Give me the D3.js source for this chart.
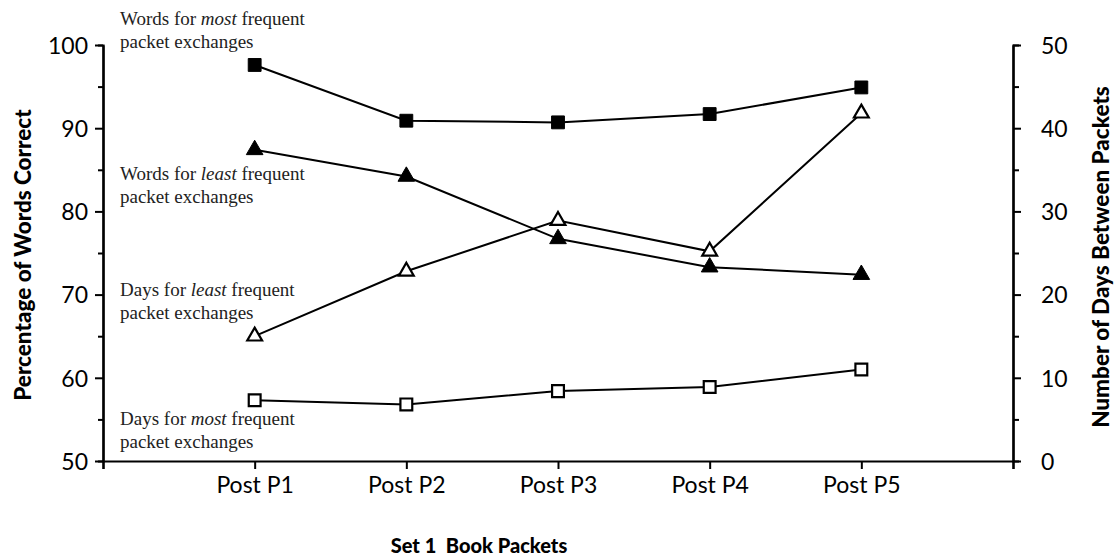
<!DOCTYPE html>
<html>
  <head>
    <title>Set 1 Book Packets</title>
    <script src="https://d3js.org/d3.v7.min.js"></script>
    <style>
      body { margin: 0; background: #fff; }
      .tick text { font-family: Lato, 'Open Sans', sans-serif; font-size: 23px; fill: #000; }
      .axis-title { font-family: Lato, sans-serif; font-weight: 900; font-size: 20px; }
      .axis-title.vert { font-size: 22.5px; }
      .note { font-family: 'Liberation Serif', 'DejaVu Serif', serif; font-size: 19px; fill: #222; }
    </style>
  </head>
  <body>
    <svg width="1118" height="557"></svg>
    <script>
      (function (d3) {
        'use strict';

        const packets = ['Post P1', 'Post P2', 'Post P3', 'Post P4', 'Post P5'];
        // left axis: percentage of words correct
        const wordsMost = [97.6, 90.9, 90.7, 91.7, 94.9];
        const wordsLeast = [87.4, 84.2, 76.7, 73.3, 72.4];
        // right axis: number of days between packets
        const daysLeast = [15.0, 22.8, 28.9, 25.2, 41.8];
        const daysMost = [7.3, 6.8, 8.4, 8.9, 11.0];

        const leftTicks = [50, 60, 70, 80, 90, 100];
        const rightTicks = [0, 10, 20, 30, 40, 50];

        const svg = d3.select('svg');
        const margin = { top: 45, right: 105, bottom: 96, left: 103 };
        const width = +svg.attr('width');
        const height = +svg.attr('height');
        const innerWidth = width - margin.left - margin.right;
        const innerHeight = height - margin.top - margin.bottom;

        const g = svg.append('g')
          .attr('transform', `translate(${margin.left},${margin.top})`);

        const xScale = d3.scaleLinear().domain([0, packets.length + 1]).range([0, innerWidth]);
        const yLeft = d3.scaleLinear().domain([50, 100]).range([innerHeight, 0]);
        const yRight = d3.scaleLinear().domain([0, 50]).range([innerHeight, 0]);

        const styleAxis = (sel) => {
          sel.selectAll('.domain').attr('stroke', '#000').attr('stroke-width', 2.2);
          sel.selectAll('.tick line').attr('stroke', '#000').attr('stroke-width', 2);
        };

        // minor ticks first so majors draw on top
        g.append('g')
          .call(d3.axisLeft(yLeft).tickValues(d3.range(55, 100, 10)).tickSize(5).tickFormat(''))
          .call(styleAxis);
        g.append('g')
          .attr('transform', `translate(${innerWidth},0)`)
          .call(d3.axisRight(yRight).tickValues(d3.range(5, 50, 10)).tickSize(6).tickFormat(''))
          .call(styleAxis);

        const leftAxis = g.append('g')
          .call(d3.axisLeft(yLeft).tickValues(leftTicks).tickSize(8).tickPadding(7).tickSizeOuter(0))
          .call(styleAxis);
        leftAxis.selectAll('.tick text').attr('dy', '0.36em');

        const rightAxis = g.append('g')
          .attr('transform', `translate(${innerWidth},0)`)
          .call(d3.axisRight(yRight).tickValues(rightTicks).tickSize(8).tickPadding(20).tickSizeOuter(0))
          .call(styleAxis);
        rightAxis.selectAll('.tick text').attr('dy', '0.36em');

        const xTicks = d3.range(0, packets.length + 2);
        g.append('g')
          .attr('transform', `translate(0,${innerHeight})`)
          .call(d3.axisBottom(xScale).tickValues(xTicks).tickSize(8).tickPadding(8)
            .tickFormat((d) => packets[d - 1] || ''))
          .call(styleAxis);

        // axis titles
        svg.append('text')
          .attr('class', 'axis-title vert')
          .attr('transform', `translate(31,${margin.top + innerHeight / 2 + 2}) rotate(-90)`)
          .attr('text-anchor', 'middle')
          .text('Percentage of Words Correct');

        svg.append('text')
          .attr('class', 'axis-title vert')
          .attr('transform', `translate(1109,${margin.top + innerHeight / 2 + 4}) rotate(-90)`)
          .attr('text-anchor', 'middle')
          .text('Number of Days Between Packets');

        svg.append('text')
          .attr('class', 'axis-title')
          .attr('x', 479)
          .attr('y', 553)
          .attr('text-anchor', 'middle')
          .style('white-space', 'pre')
          .attr('xml:space', 'preserve')
          .text('Set 1  Book Packets');

        // series
        const series = [
          { values: wordsMost, y: yLeft, shape: d3.symbolSquare, size: 165, fill: '#000' },
          { values: wordsLeast, y: yLeft, shape: d3.symbolTriangle, size: 120, fill: '#000' },
          { values: daysLeast, y: yRight, shape: d3.symbolTriangle, size: 95, fill: '#fff' },
          { values: daysMost, y: yRight, shape: d3.symbolSquare, size: 140, fill: '#fff' },
        ];

        series.forEach((s) => {
          const line = d3.line()
            .x((d, i) => xScale(i + 1))
            .y((d) => s.y(d));
          g.append('path')
            .datum(s.values)
            .attr('fill', 'none')
            .attr('stroke', '#000')
            .attr('stroke-width', 2)
            .attr('d', line);
        });

        series.forEach((s) => {
          g.append('g')
            .selectAll('path')
            .data(s.values)
            .enter()
            .append('path')
            .attr('transform', (d, i) => `translate(${xScale(i + 1)},${s.y(d)})`)
            .attr('d', d3.symbol().type(s.shape).size(s.size))
            .attr('fill', s.fill)
            .attr('stroke', '#000')
            .attr('stroke-width', s.fill === '#fff' ? 2.2 : 1);
        });

        // series notes
        const notes = [
          { y: 25, a: 'Words for ', em: 'most', b: ' frequent' },
          { y: 180, a: 'Words for ', em: 'least', b: ' frequent' },
          { y: 296, a: 'Days for ', em: 'least', b: ' frequent' },
          { y: 425, a: 'Days for ', em: 'most', b: ' frequent' },
        ];
        notes.forEach((n) => {
          const t = svg.append('text').attr('class', 'note').attr('x', 120).attr('y', n.y);
          t.append('tspan').text(n.a);
          t.append('tspan').style('font-style', 'italic').text(n.em);
          t.append('tspan').text(n.b);
          svg.append('text').attr('class', 'note').attr('x', 120).attr('y', n.y + 23)
            .text('packet exchanges');
        });
      })(d3);
    </script>
  </body>
</html>
